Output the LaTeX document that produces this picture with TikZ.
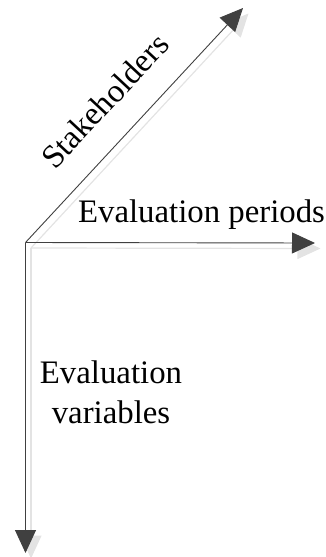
\documentclass[tikz,border=0pt]{standalone}
\usepackage{fontspec}
\setmainfont{Liberation Serif}
\newfontfamily\tnrfont{Liberation Serif}
\usetikzlibrary{arrows.meta}
\definecolor{axisgray}{HTML}{404040}
\definecolor{shadowgray}{HTML}{E3E3E3}
\tikzset{
  axisline/.style={draw=axisgray, line width=0.9pt, -{Triangle[length=23pt,width=21pt]}, color=axisgray},
  shadowline/.style={draw=shadowgray, line width=1.2pt, -{Triangle[length=23pt,width=21pt]}, color=shadowgray},
  lbl/.style={font=\tnrfont\fontsize{32.8}{40}\selectfont, inner sep=0pt, text=black}
}
\begin{document}
\begin{tikzpicture}[x=1pt,y=-1pt]
\useasboundingbox (0,0) rectangle (326,557);
\coordinate (o) at (25.5,242.5);
\coordinate (tx) at (315,243);
\coordinate (ty) at (25.5,553);
\coordinate (td) at (243,8);
\foreach \t in {tx,ty,td}{
  \draw[shadowline] ([shift={(5.5,5.5)}]o) -- ([shift={(5.5,5.5)}]\t);
}
\draw[axisline] (o) -- (tx);
\draw[axisline] (o) -- (ty);
\draw[axisline] (o) -- (td);
\node[lbl, anchor=base] (periods) at (201.5,222) {Evaluation periods};
\node[lbl, anchor=base, rotate=47] (stake) at (113,108.5) {Stakeholders};
\node[lbl, anchor=base, align=center] (vars) at (111,423) {Evaluation\\variables};
\end{tikzpicture}
\end{document}
